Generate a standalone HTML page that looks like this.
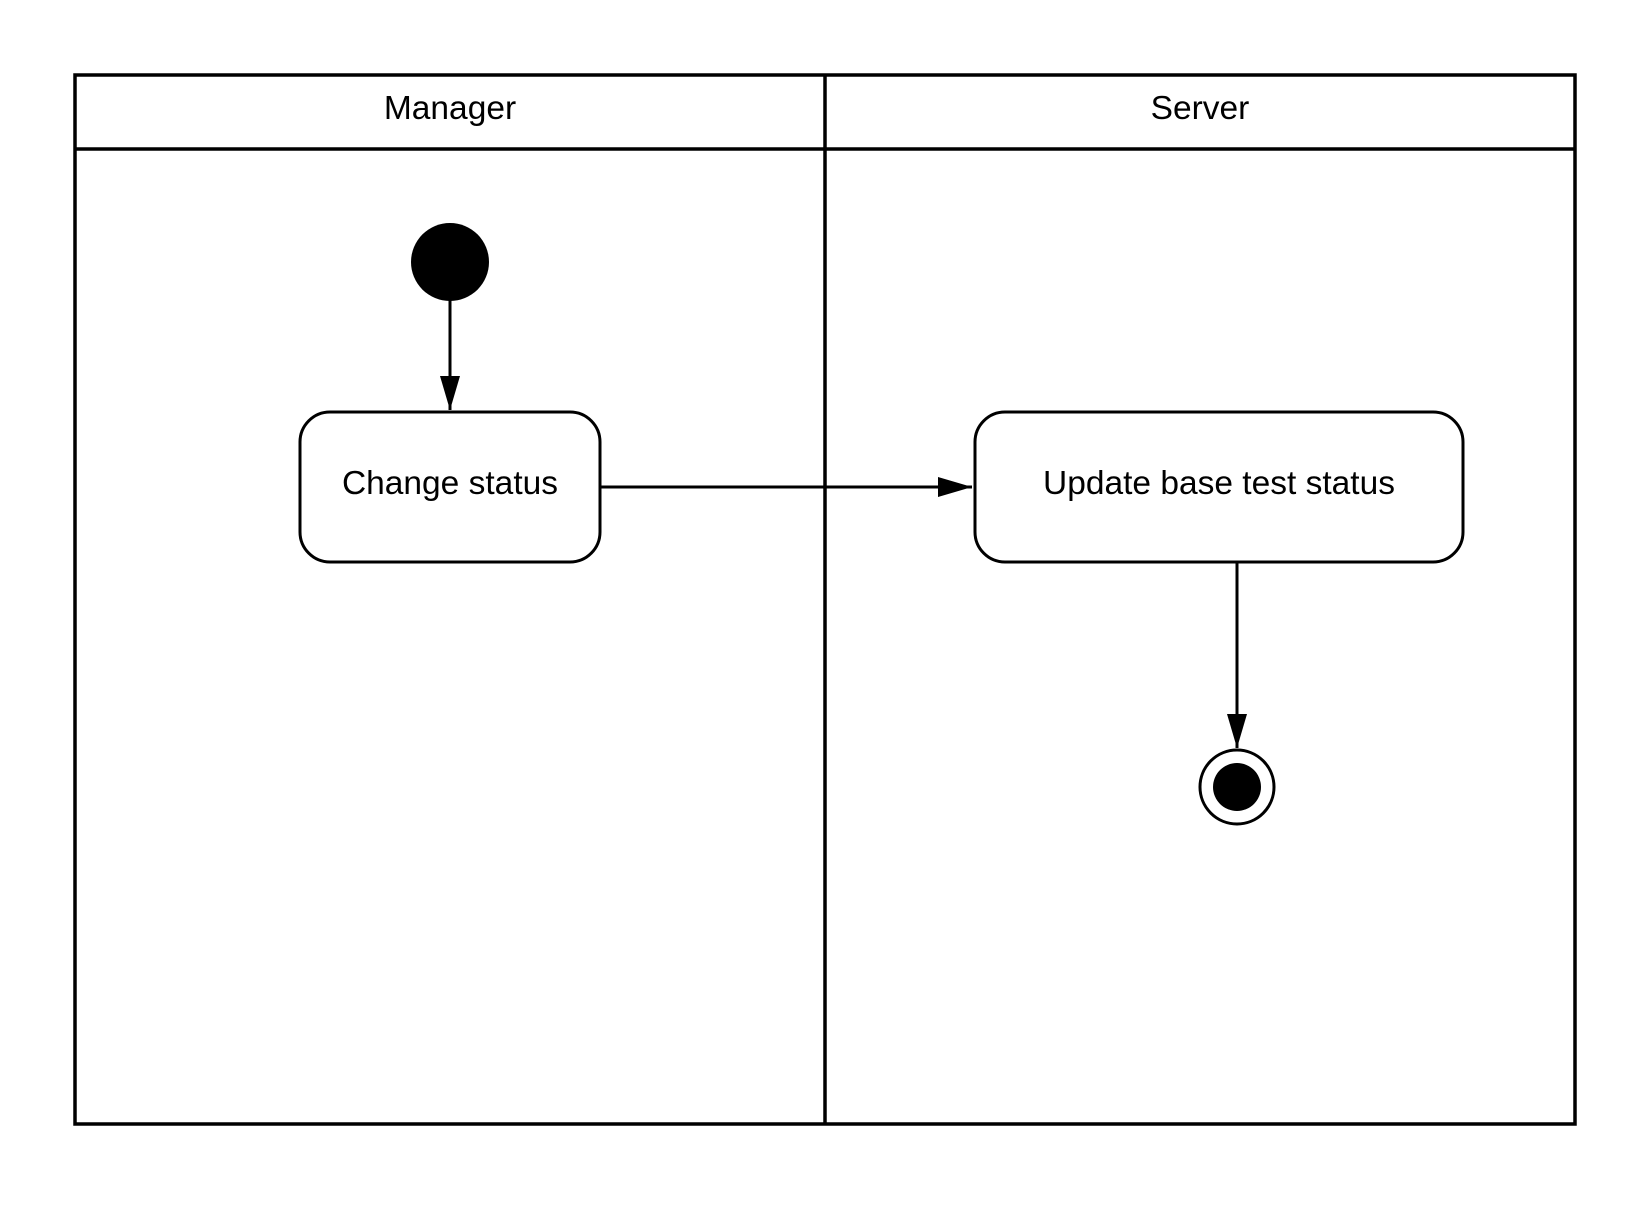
<!DOCTYPE html>
<html><head><style>html,body{margin:0;padding:0;background:#fff}</style></head>
<body>
<svg width="1650" height="1200" viewBox="0 0 1650 1200" xmlns="http://www.w3.org/2000/svg" font-family="Liberation Sans, sans-serif">
<defs><marker id="a" markerWidth="36" markerHeight="24" refX="34" refY="10" orient="auto" markerUnits="userSpaceOnUse"><path d="M0,0 L34,10 L0,20 Z" fill="#000"/></marker></defs>
<rect x="75" y="75" width="1500" height="1049" fill="none" stroke="#000" stroke-width="3.5"/>
<line x1="75" y1="149" x2="1575" y2="149" stroke="#000" stroke-width="3.5"/>
<line x1="825" y1="75" x2="825" y2="1124" stroke="#000" stroke-width="3.5"/>
<text x="450" y="119" font-size="33.5" text-anchor="middle">Manager</text>
<text x="1200" y="119" font-size="33.5" text-anchor="middle">Server</text>
<circle cx="450" cy="262" r="39" fill="#000"/>
<line x1="450" y1="300" x2="450" y2="410" stroke="#000" stroke-width="3" marker-end="url(#a)"/>
<rect x="300" y="412" width="300" height="150" rx="30" fill="#fff" stroke="#000" stroke-width="3"/>
<text x="450" y="494" font-size="33.5" text-anchor="middle">Change status</text>
<line x1="600" y1="487" x2="972" y2="487" stroke="#000" stroke-width="3" marker-end="url(#a)"/>
<rect x="975" y="412" width="488" height="150" rx="30" fill="#fff" stroke="#000" stroke-width="3"/>
<text x="1219" y="494" font-size="33.5" text-anchor="middle">Update base test status</text>
<line x1="1237" y1="562" x2="1237" y2="748" stroke="#000" stroke-width="3" marker-end="url(#a)"/>
<circle cx="1237" cy="787" r="37" fill="#fff" stroke="#000" stroke-width="3"/>
<circle cx="1237" cy="787" r="24" fill="#000"/>
</svg>
</body></html>
